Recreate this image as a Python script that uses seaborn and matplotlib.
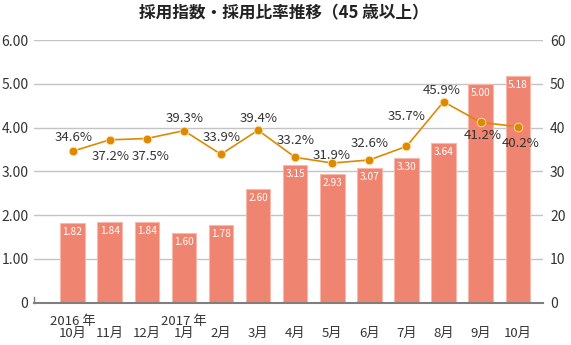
import numpy as np
import pandas as pd
import matplotlib
matplotlib.use("Agg")
import matplotlib.pyplot as plt
import matplotlib.transforms as mtransforms
import seaborn as sns

# ---- data ----
months = ["10月", "11月", "12月", "1月", "2月", "3月", "4月", "5月", "6月", "7月", "8月", "9月", "10月"]
year_labels = ["2016 年", "", "", "2017 年", "", "", "", "", "", "", "", "", ""]
hiring_index = [1.82, 1.84, 1.84, 1.60, 1.78, 2.60, 3.15, 2.93, 3.07, 3.30, 3.64, 5.00, 5.18]
hiring_ratio = [34.6, 37.2, 37.5, 39.3, 33.9, 39.4, 33.2, 31.9, 32.6, 35.7, 45.9, 41.2, 40.2]
left_ticks = [0, 1, 2, 3, 4, 5, 6]
left_tick_labels = ["0", "1.00", "2.00", "3.00", "4.00", "5.00", "6.00"]
right_ticks = [0, 10, 20, 30, 40, 50, 60]
title = "採用指数・採用比率推移（45 歳以上）"

# label placement (pixel offsets from each point) - layout only
ratio_label_offsets = [(1, 13.5), (0.5, -17), (4, -18), (1, 12), (0.5, 16.5), (1, 11.6),
                       (0, 16.6), (-1, 8), (0.5, 16), (0, 30), (-2, 11), (2, -13), (3, -17)]

sns.set_theme(style="white")
plt.rcParams["font.family"] = ["Noto Sans CJK JP", "DejaVu Sans"]

BAR = "#EF8470"
BAR_EDGE = "#F7B9AC"
LINE = "#DE8A00"
TXT = "#333333"

fig = plt.figure(figsize=(5.71, 3.45), dpi=100)
ax = fig.add_axes([34 / 571, 1 - 302.7 / 345, (543 - 34) / 571, (302.7 - 40) / 345])

pos = np.arange(len(months))
df = pd.DataFrame({"pos": pos, "month": months, "index": hiring_index, "ratio": hiring_ratio})

sns.barplot(data=df, x="pos", y="index", color=BAR, width=0.66, ax=ax,
            edgecolor=BAR_EDGE, linewidth=0.8, saturation=1, native_scale=True)
ax.set_xlim(-1.04, 12.68)
ax.set_ylim(0, 6)
ax.set_yticks(left_ticks)
ax.set_yticklabels(left_tick_labels)
ax.set_xticks(pos)
ax.set_xticklabels(months)
ax.set_xlabel("")
ax.set_ylabel("")

ax.yaxis.grid(True, color="#C4C4C4", linewidth=1.0)
ax.set_axisbelow(True)
for s in ["top", "right"]:
    ax.spines[s].set_visible(False)
ax.spines["left"].set_bounds(0, 0.12)
ax.spines["left"].set_color("#7F7F7F")
ax.spines["left"].set_linewidth(1.0)
ax.spines["bottom"].set_color("#7F7F7F")
ax.spines["bottom"].set_linewidth(1.5)
ax.tick_params(axis="y", length=0, pad=4, labelsize=10, labelcolor=TXT)
ax.tick_params(axis="x", length=0, pad=17.5, labelsize=9.5, labelcolor=TXT)

# bar value labels
for p, v in zip(pos, hiring_index):
    ax.annotate(f"{v:.2f}", (p, v), xytext=(0, -9), textcoords="offset pixels",
                ha="center", va="center", color="white", fontsize=7.3)

# year labels
trans = mtransforms.blended_transform_factory(ax.transData, ax.transAxes)
for p, yl in zip(pos, year_labels):
    if yl:
        ax.annotate(yl, (p, 0), xycoords=trans, xytext=(0, -18.5), textcoords="offset pixels",
                    ha="center", va="center", fontsize=9.5, color=TXT)

# line on secondary axis
ax2 = ax.twinx()
sns.lineplot(data=df, x="pos", y="ratio", ax=ax2, color=LINE, linewidth=1.2,
             marker="o", markersize=6.2, markerfacecolor=LINE, markeredgecolor="#FBE3B4",
             markeredgewidth=0.6)
ax2.set_ylim(0, 60)
ax2.set_yticks(right_ticks)
ax2.set_ylabel("")
ax2.set_xlabel("")
for s in ["top", "right", "left", "bottom"]:
    ax2.spines[s].set_visible(False)
ax2.tick_params(axis="y", length=0, pad=5, labelsize=10, labelcolor=TXT)
ax2.set_xlim(-1.04, 12.68)

for p, v, (dx, dy) in zip(pos, hiring_ratio, ratio_label_offsets):
    ax2.annotate(f"{v:.1f}%", (p, v), xytext=(dx, dy), textcoords="offset pixels",
                 ha="center", va="center", fontsize=9.5, color=TXT)

fig.text(284 / 571, 1 - 13.5 / 345, title, ha="center", va="center",
         fontsize=12, fontweight="bold", color="#222222")

fig.savefig("out.png", dpi=100)
